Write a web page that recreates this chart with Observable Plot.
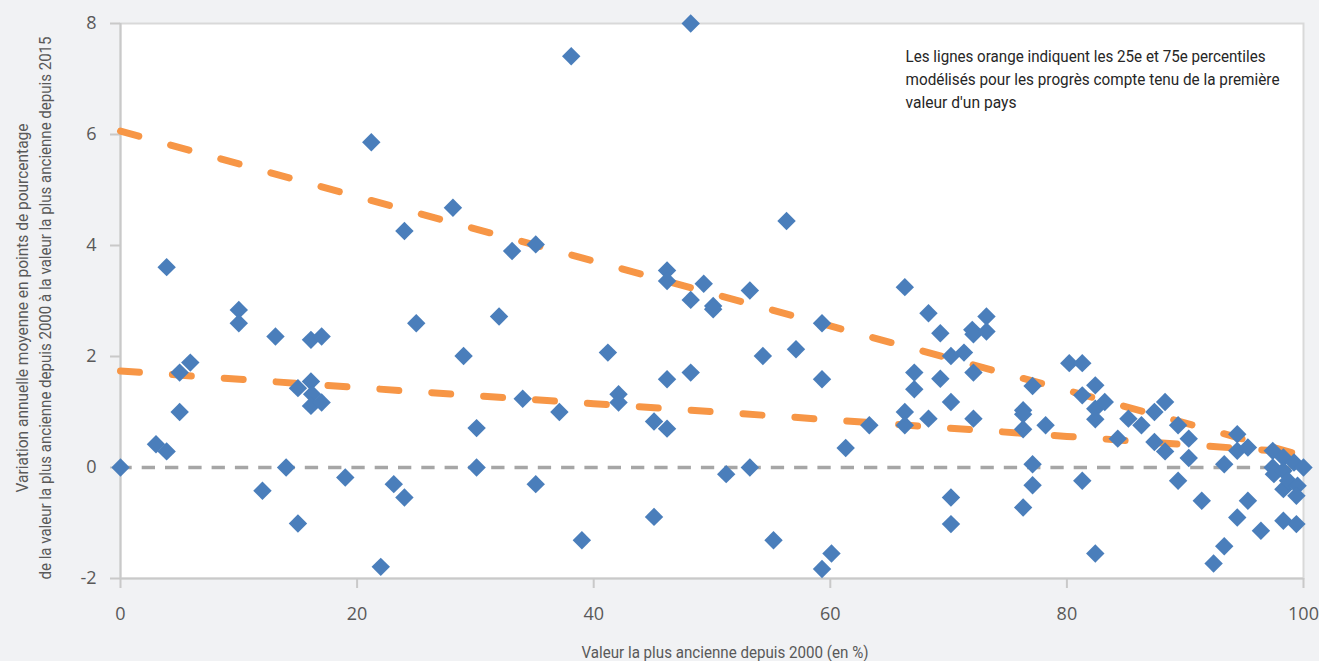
<!DOCTYPE html>
<html>
<head>
<meta charset="utf-8">
<script src="https://cdn.jsdelivr.net/npm/d3@7"></script>
<script src="https://cdn.jsdelivr.net/npm/@observablehq/plot@0.6"></script>
<style>
  html, body { margin: 0; padding: 0; background: #f1f2f4; }
  #chart { width: 1319px; height: 661px; overflow: hidden; }
</style>
</head>
<body>
<div id="chart"></div>
<script>
// Earliest value since 2000 (%) for each country
const startValue = [
  0, 3.0, 3.9, 3.9, 5.0, 5.0, 5.9, 10.0, 10.0, 12.0, 13.1, 14.0, 15.0, 15.0, 16.1, 16.1, 16.2, 16.1, 17.0, 17.0, 19.0,
  21.2, 22.0, 23.1, 24.0, 24.0, 25.0, 28.1, 29.0, 30.1, 30.1, 32.0, 33.1, 34.0, 35.1, 35.1, 37.1, 38.1, 39.0,
  41.2, 42.1, 42.1, 45.1, 45.1, 46.2, 46.2, 46.2, 46.2, 48.2, 48.2, 48.2, 49.3, 50.1, 50.1, 51.2, 53.2, 53.2, 54.3, 55.2, 56.3, 57.1, 59.3, 59.3, 59.3, 60.1,
  61.3, 63.3, 66.3, 66.3, 66.3, 67.1, 67.1, 68.3, 68.3, 69.3, 69.3, 70.2, 70.2, 70.2, 70.2, 71.3, 72.0, 72.1, 72.1, 72.1, 73.2, 73.2, 76.3, 76.3, 76.3, 76.3, 77.1, 77.1, 77.1, 78.2,
  80.2, 81.3, 81.3, 81.3, 82.4, 82.4, 82.4, 82.4, 83.2, 84.3, 85.2, 86.3, 87.4, 87.4, 88.3, 88.3, 89.4, 89.4, 90.3, 90.3, 91.4, 92.4, 93.3, 93.3, 94.4, 94.4, 94.4, 95.3, 95.3, 96.4, 97.4, 97.4, 97.5, 98.3, 98.3, 98.3, 98.3, 98.7, 99.2, 99.5, 99.4, 99.4, 100
];

// Average annual change (percentage points) for the same countries
const annualChange = [
  0, 0.42, 0.29, 3.61, 1.0, 1.71, 1.89, 2.84, 2.60, -0.42, 2.36, 0, 1.43, -1.01, 1.55, 2.30, 1.32, 1.11, 1.17, 2.36, -0.18,
  5.86, -1.79, -0.30, -0.54, 4.26, 2.60, 4.68, 2.01, 0.71, 0, 2.72, 3.90, 1.24, 4.02, -0.30, 1.00, 7.41, -1.31,
  2.07, 1.32, 1.17, 0.83, -0.89, 0.70, 1.59, 3.55, 3.36, 1.71, 3.02, 8.00, 3.31, 2.91, 2.85, -0.12, 3.19, 0, 2.01, -1.31, 4.44, 2.13, 2.60, 1.59, -1.83, -1.55,
  0.35, 0.76, 3.25, 1.00, 0.76, 1.71, 1.41, 2.78, 0.88, 2.42, 1.60, 2.01, 1.18, -0.54, -1.02, 2.07, 2.48, 2.40, 1.71, 0.88, 2.72, 2.45, 1.03, 0.96, 0.69, -0.72, 1.47, 0.06, -0.32, 0.76,
  1.88, 1.88, 1.30, -0.24, 1.48, 1.06, 0.87, -1.55, 1.18, 0.52, 0.88, 0.76, 1.00, 0.46, 1.18, 0.29, 0.76, -0.24, 0.52, 0.17, -0.60, -1.73, 0.06, -1.42, 0.60, 0.30, -0.90, 0.36, -0.60, -1.14, 0.30, 0, -0.12, 0.18, -0.06, -0.39, -0.96, -0.24, 0.09, -0.33, -0.51, -1.02, 0
];

// Modelled percentiles of progress given the starting value
const percentileX = [0, 20, 40, 60, 80, 99];
const p75 = [6.06, 4.88, 3.72, 2.55, 1.39, 0.27];
const p25 = [1.74, 1.44, 1.15, 0.86, 0.56, 0.28];

const xTicks = [0, 20, 40, 60, 80, 100];
const yTicks = [-2, 0, 2, 4, 6, 8];

const yTitle = [
  "Variation annuelle moyenne en points de pourcentage",
  "de la valeur la plus ancienne depuis 2000 à la valeur la plus ancienne depuis 2015"
];
const xTitle = "Valeur la plus ancienne depuis 2000 (en %)";
const note = [
  "Les lignes orange indiquent les 25e et 75e percentiles",
  "modélisés pour les progrès compte tenu de la première",
  "valeur d'un pays"
];

// Set widths for the condensed caption lines
const condensedWidths = new Map([
  [note[0], 360], [note[1], 374], [note[2], 111],
  [yTitle[0], 369], [yTitle[1], 543],
  [xTitle, 287]
]);

const points = startValue.map((x, i) => ({x, y: annualChange[i]}));
const upper = percentileX.map((x, i) => ({x, y: p75[i]}));
const lower = percentileX.map((x, i) => ({x, y: p25[i]}));

const captionFont = "Roboto, 'Open Sans', sans-serif";

const chart = Plot.plot({
  width: 1319,
  height: 661,
  marginLeft: 120,
  marginRight: 16,
  marginTop: 23,
  marginBottom: 83,
  style: {background: "transparent", fontFamily: "'Open Sans', sans-serif"},
  x: {domain: [0, 100]},
  y: {domain: [-2, 8]},
  marks: [
    Plot.frame({fill: "white", stroke: "#d9d9d9", strokeWidth: 2}),
    Plot.ruleX([0], {stroke: "#c9c9c9", strokeWidth: 2}),
    Plot.ruleY([-2], {stroke: "#c9c9c9", strokeWidth: 2}),
    Plot.axisY({
      ticks: yTicks, tickSize: 10, tickPadding: 14, fontSize: 18,
      tickFormat: d => String(d), label: null,
      stroke: "#c9c9c9", strokeWidth: 2, fill: "#595959"
    }),
    Plot.axisX({
      ticks: xTicks, tickSize: 10, tickPadding: 19, fontSize: 18,
      tickFormat: d => String(d), label: null,
      stroke: "#c9c9c9", strokeWidth: 2, fill: "#595959"
    }),
    Plot.ruleY([0], {
      x1: 0, x2: 100, stroke: "#a6a6a6", strokeWidth: 3.5,
      strokeDasharray: "13.3 10", strokeDashoffset: 1.6
    }),
    Plot.line(upper, {
      x: "x", y: "y", stroke: "#f79646", strokeWidth: 7,
      strokeLinecap: "round", strokeDasharray: "19 33"
    }),
    Plot.line(lower, {
      x: "x", y: "y", stroke: "#f79646", strokeWidth: 7,
      strokeLinecap: "round", strokeDasharray: "19 33"
    }),
    Plot.dot(points, {
      x: "x", y: "y", symbol: "diamond2", r: 8.3, fill: "#4a7ebb", stroke: "none"
    }),
    Plot.text([note.join("\n")], {
      frameAnchor: "top-left", dx: 785, dy: 22, lineAnchor: "top",
      textAnchor: "start", fontSize: 16.5, lineHeight: 1.4,
      fontFamily: captionFont, fill: "#262626"
    }),
    Plot.text([yTitle.join("\n")], {
      frameAnchor: "left", dx: -88.5, dy: 7, rotate: -90, lineAnchor: "middle",
      textAnchor: "middle", fontSize: 16, lineHeight: 1.44,
      fontFamily: captionFont, fill: "#595959"
    }),
    Plot.text([xTitle], {
      frameAnchor: "bottom", dx: 13, dy: 79, lineAnchor: "bottom",
      textAnchor: "middle", fontSize: 16.5, fontFamily: captionFont, fill: "#595959"
    })
  ]
});

document.getElementById("chart").appendChild(chart);

// Condense the caption lines to their set widths
chart.querySelectorAll("text, tspan").forEach(el => {
  if (el.tagName === "text" && el.querySelector("tspan")) return;
  const w = condensedWidths.get(el.textContent);
  if (w) {
    el.setAttribute("textLength", w);
    el.setAttribute("lengthAdjust", "spacingAndGlyphs");
  }
});
</script>
</body>
</html>
